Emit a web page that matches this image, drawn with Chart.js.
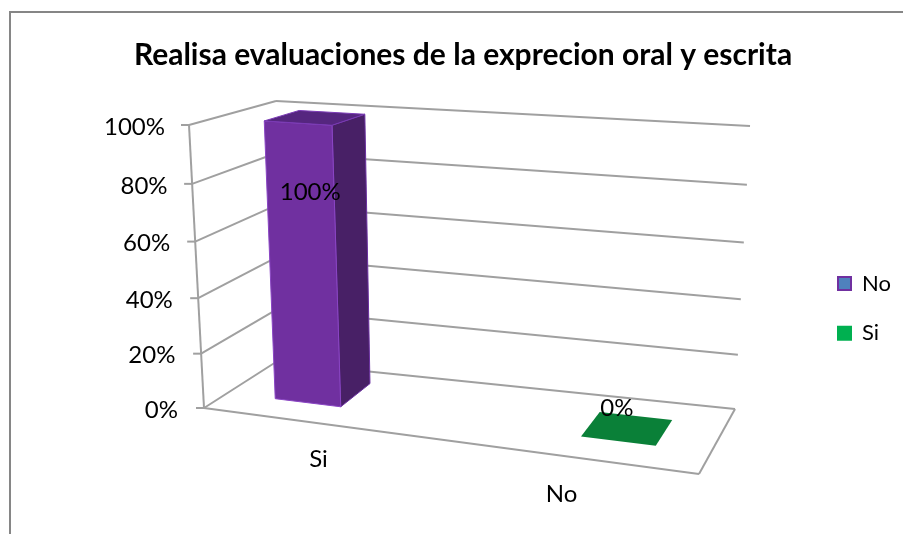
<!DOCTYPE html>
<html><head><meta charset="utf-8">
<style>html,body{margin:0;padding:0;background:#fff}canvas{display:block}</style>
<script src="https://cdn.jsdelivr.net/npm/chart.js@4/dist/chart.umd.min.js"></script>
</head><body>
<canvas id="c" width="903" height="534"></canvas>
<script>
const chartTitle = 'Realisa evaluaciones de la exprecion oral y escrita';
const categories = ['Si', 'No'];
const values = [100, 0];
const legendLabels = ['No', 'Si'];
const FONT = 'Lato';

// 3D box used by the drawing plugin: [x, y] of the eight corners
const F0 = [204,408], F1 = [699,474], B0 = [276,362], B1 = [735,409];
const TF0 = [189,125], TF1 = [700,160], TB0 = [276,101], TB1 = [750,126];
const barColors = { front:['#7030a0','#0a8038'], side:['#482066','#0a8038'], top:['#55267f','#0a8038'] };
const barDepth = [[0.33,0.79],[0.33,0.74]];
const GRID = '#a0a0a0';

const lerp = (a,b,t)=>[a[0]+(b[0]-a[0])*t, a[1]+(b[1]-a[1])*t];
function P(u,z,f){
  const bot = lerp(lerp(F0,F1,u), lerp(B0,B1,u), z);
  const top = lerp(lerp(TF0,TF1,u), lerp(TB0,TB1,u), z);
  return lerp(bot, top, f);
}
const warp = f => f - 0.05*f*(1-f);
const barP = (u,z,f)=>P(u, z*(1-0.09*f), f);
const uOf = t => 0.1655 + 1.2*(t-0.25) + 0.17*(t-0.25)*(t-0.25);

function line(ctx,a,b,w){ctx.beginPath();ctx.moveTo(a[0],a[1]);ctx.lineTo(b[0],b[1]);ctx.lineWidth=w||2;ctx.strokeStyle=GRID;ctx.stroke();}
function poly(ctx,pts,fill,edge){ctx.beginPath();pts.forEach((p,i)=>i?ctx.lineTo(p[0],p[1]):ctx.moveTo(p[0],p[1]));ctx.closePath();ctx.fillStyle=fill;ctx.fill();if(edge){ctx.strokeStyle=edge;ctx.lineWidth=1;ctx.stroke();}}

const box3d = {
  id:'box3d',
  afterLayout(chart){
    const l = chart.legend; const w=l.right-l.left, h=l.bottom-l.top;
    l.left = 810.4; l.right = l.left+w; l.top = 245; l.bottom = l.top+h;
    const t = chart.titleBlock; t.left = 23; t.right = 903;
  },
  beforeDraw(chart){
    const ctx=chart.ctx, ys=chart.scales.y, xs=chart.scales.x, area=chart.chartArea;
    ys.getLabelItems(area).forEach(it=>{
      const v=parseFloat(it.label), f=warp(v/100);
      it.options.translation=[178-13*v/100, 410-283*f];
    });
    xs.getLabelItems(area).forEach(it=>{
      const x=it.options.translation[0], t=(x-area.left)/area.width;
      it.options.textBaseline='middle'; it.textOffset=0;
      it.options.translation=[x, area.bottom+51+70*(t-0.25)];
    });
    // chart frame
    ctx.save();ctx.strokeStyle='#868686';ctx.lineWidth=2;ctx.beginPath();
    ctx.moveTo(10,534);ctx.lineTo(10,12);ctx.lineTo(903,12);ctx.stroke();ctx.restore();
  },
  beforeDatasetsDraw(chart){
    const ctx=chart.ctx, ys=chart.scales.y;
    ctx.save();
    ys.ticks.forEach(tk=>{
      const f=(ys.bottom-ys.getPixelForValue(tk.value))/(ys.bottom-ys.top), g=warp(f);
      const a=P(0,0,g), b=P(0,1,f), c=lerp(B1,TB1,g);
      line(ctx,a,b); line(ctx,b,c); line(ctx,[a[0]-8,a[1]],a);
    });
    line(ctx,F0,TF0); line(ctx,F0,F1); line(ctx,F1,B1);
    ctx.restore();
  },
  beforeDatasetDraw(chart,args){
    const ctx=chart.ctx, ys=chart.scales.y, area=chart.chartArea;
    const els=args.meta.data;
    ctx.save();
    els.forEach((el,i)=>{
      const t0=(el.x-el.width/2-area.left)/area.width, t1=(el.x+el.width/2-area.left)/area.width;
      const u0=uOf(t0), u1=uOf(t1), f=(ys.bottom-el.y)/(ys.bottom-ys.top);
      const [z0,z1]=barDepth[i];
      if(f>0){
        poly(ctx,[barP(u1,z0,0),barP(u1,z1,0),barP(u1,z1,f),barP(u1,z0,f)],barColors.side[i],'#6a2fa0');
        poly(ctx,[barP(u0,z0,0),barP(u1,z0,0),barP(u1,z0,f),barP(u0,z0,f)],barColors.front[i],'#8a45c4');
      }
      poly(ctx,[barP(u0,z0,f),barP(u1,z0,f),barP(u1,z1,f),barP(u0,z1,f)],barColors.top[i],f>0?'#7a3ab5':null);
    });
    ctx.restore();
    return false;
  },
  afterDatasetsDraw(chart){
    const ctx=chart.ctx, ys=chart.scales.y, area=chart.chartArea;
    const els=chart.getDatasetMeta(0).data;
    ctx.save();
    ctx.fillStyle='#000';ctx.font='24px '+FONT;ctx.textAlign='center';ctx.textBaseline='middle';
    els.forEach((el,i)=>{
      const u=uOf((el.x-area.left)/area.width), f=(ys.bottom-el.y)/(ys.bottom-ys.top);
      const p=P(u,(barDepth[i][0]+barDepth[i][1])/2,0.65*f);
      ctx.fillText(values[i]+'%',p[0]-10,p[1]-20);
    });
    ctx.restore();
  }
};

new Chart(document.getElementById('c'),{
  type:'bar',
  data:{labels:categories,datasets:[{label:legendLabels[0],data:values,backgroundColor:barColors.front,barPercentage:0.226,categoryPercentage:1}]},
  plugins:[box3d],
  options:{
    responsive:false,animation:false,
    layout:{padding:{left:0,right:220,top:0,bottom:0}},
    plugins:{
      tooltip:{enabled:false},
      title:{display:true,text:chartTitle,color:'#000',font:{family:FONT,size:30,weight:'bold'},padding:{top:37,bottom:52}},
      legend:{
        position:'chartArea',align:'start',
        labels:{
          font:{family:FONT,size:22},color:'#000',boxWidth:13,boxHeight:13,padding:27.6,
          generateLabels:()=>[
            {text:legendLabels[0],fillStyle:'#4f81bd',strokeStyle:'#7030a0',lineWidth:2,hidden:false,datasetIndex:0},
            {text:legendLabels[1],fillStyle:'#00b050',strokeStyle:'#00b050',lineWidth:2,hidden:false,datasetIndex:0}
          ]
        }
      }
    },
    scales:{
      x:{grid:{display:false},border:{display:false},ticks:{color:'#000',font:{family:FONT,size:24},maxRotation:0},afterFit(s){s.height=126;}},
      y:{min:0,max:100,grid:{display:false},border:{display:false},
        ticks:{stepSize:20,color:'#000',font:{family:FONT,size:24},callback:v=>v+'%'},afterFit(s){s.width=197;}}
    }
  }
});
</script>
</body></html>
